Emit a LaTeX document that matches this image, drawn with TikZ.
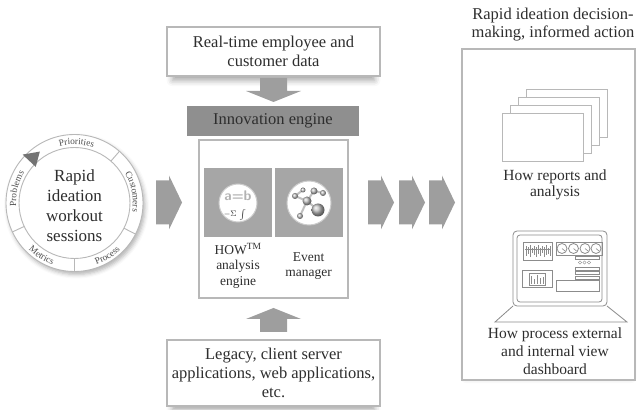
\documentclass[tikz,border=0pt]{standalone}
\usepackage{fontspec}
\setmainfont{Liberation Serif}
\usetikzlibrary{decorations.text,shadows.blur}

\definecolor{inkgray}{HTML}{2E2E2E}
\definecolor{linegray}{HTML}{B8B8B8}
\definecolor{arrowgray}{HTML}{9E9E9E}
\definecolor{bargray}{HTML}{8F8F8F}
\definecolor{tilegray}{HTML}{A6A6A6}
\newcommand{\ringfont}{\fontsize{9.3}{10}\selectfont}

\begin{document}
\begin{tikzpicture}[x=1pt, y=1pt,
  every node/.style={text=inkgray},
  txt/.style={font=\fontsize{16.5}{19}\selectfont, align=center},
  infobox/.style={txt, draw=linegray, line width=1.1pt, fill=white, inner sep=0pt},
  softshadow/.style={blur shadow={shadow xshift=0pt, shadow yshift=-6pt, shadow scale=0.95, shadow blur radius=6pt, shadow opacity=35}},
  tile/.style={fill=tilegray, inner sep=0pt, minimum width=68pt, minimum height=69pt},
  lens/.style={circle, fill=white, draw=white!80!black, line width=1pt, inner sep=0pt},
  page/.style={draw=linegray, line width=1pt, fill=white},
  screen/.style={draw=black!45, line width=0.8pt},
  ringlabel/.style={decorate, decoration={text along path, text align=center, text color=inkgray!85}},
  fatarrow/.pic={\fill[arrowgray] (-12,-13.5) -- (1,-13.5) -- (1,-27.5) -- (12,0) -- (1,27.5) -- (1,13.5) -- (-12,13.5) -- cycle;},
  chevron/.pic={\fill[arrowgray] (-13,-22) -- (0,-22) -- (0,-27) -- (13,0) -- (0,27) -- (0,22) -- (-13,22) -- cycle;}
]
\useasboundingbox (0,0) rectangle (638,410);

% workout ring
\coordinate (hub) at (74.5,207);
\fill[white, blur shadow={shadow xshift=2pt, shadow yshift=-3pt, shadow blur radius=4pt, shadow opacity=30}] (hub) circle (68.5);
\draw[linegray, line width=0.9pt] (hub) circle (68.5) (hub) circle (55.5);
\foreach \a in {49,-27,-90,-155}
  \draw[linegray, line width=0.9pt] ([shift={(\a:55.5)}]hub) -- ([shift={(\a:68.5)}]hub);
\fill[black!55] ([shift={(137:53)}]hub) -- ([shift={(137:71)}]hub) -- ([shift={(124:62)}]hub) -- cycle;
\path[ringlabel, decoration={text={|\ringfont|Priorities}}] ([shift={(123:58.5)}]hub) arc (123:53:58.5);
\path[ringlabel, decoration={text={|\ringfont|Customers}}] ([shift={(46:58.5)}]hub) arc (46:-24:58.5);
\path[ringlabel, decoration={text={|\ringfont|Problems}}] ([shift={(201:58.5)}]hub) arc (201:131:58.5);
\path[ringlabel, decoration={text={|\ringfont|Process}}] ([shift={(-93:65.5)}]hub) arc (-93:-23:65.5);
\path[ringlabel, decoration={text={|\ringfont|Metrics}}] ([shift={(-157:65.5)}]hub) arc (-157:-87:65.5);
\node[font=\fontsize{17}{20}\selectfont, align=center] (workout) at (74.5,204) {Rapid\\ideation\\workout\\sessions};

\pic (inarrow) at (169,207.5) {chevron};

% innovation engine column
\node[infobox, softshadow, minimum width=213pt, minimum height=49pt] (realtime) at (273.5,358.5) {Real-time employee and\\customer data};
\pic[rotate=-90] (downarrow) at (273.5,320) {fatarrow};
\node[txt, fill=bargray, inner sep=0pt, minimum width=172pt, minimum height=30pt] (innovation) at (273,289) {Innovation engine};
\node[draw=linegray, line width=1.1pt, fill=white, inner sep=0pt, minimum width=149pt, minimum height=158pt] (engine) at (273.5,191) {};
\node[tile] (howtile) at (238,207.5) {};
\node[tile] (eventtile) at (308.5,207.5) {};
\node[lens, minimum size=38pt] (howlens) at (238,207) {};
\node[lens, minimum size=44pt] (eventlens) at (309,207) {};
\node[text=black!30, font=\sffamily\bfseries\fontsize{14}{14}\selectfont, inner sep=0pt] (formula) at ([yshift=7]howlens.center) {a=b};
\node[font=\fontsize{8}{8}\selectfont, inner sep=0pt] (symbols) at ([shift={(-3,-12)}]howlens.center) {$-\Sigma\,\int$};
\foreach \ax/\ay/\bx/\by in {-14/7/-2/2, -2/2/5/12, 5/12/14/10, -2/2/9/-7, -2/2/-9/-13, -14/7/-6/13}
  \draw[black!25, line width=2pt] ([shift={(\ax,\ay)}]eventlens.center) -- ([shift={(\bx,\by)}]eventlens.center);
\foreach \bx/\by/\r in {-2/2/4.5, 9/-7/6.5, 5/12/3.5, 14/10/3, -14/7/3, -6/13/2.5, -9/-13/3}
  \shade[ball color=black!25] ([shift={(\bx,\by)}]eventlens.center) circle (\r);
\node[txt, font=\fontsize{13.5}{15.5}\selectfont] (howlabel) at (238,144.5) {HOW\textsuperscript{TM}\\analysis\\engine};
\node[txt, font=\fontsize{13.5}{15.5}\selectfont] (eventlabel) at (308.5,144) {Event\\manager};
\pic[rotate=90] (uparrow) at (273.5,90) {fatarrow};
\node[infobox, softshadow, minimum width=213pt, minimum height=66pt] (legacy) at (273.5,37) {Legacy, client server\\applications, web applications,\\etc.};

\foreach \x in {381,412,442}
  \pic at (\x,207.5) {chevron};

% decision panel
\node[txt, font=\fontsize{16.5}{18}\selectfont] (paneltitle) at (553,385.5) {Rapid ideation decision-\\making, informed action};
\node[draw=linegray, line width=1.1pt, fill=white, inner sep=0pt, minimum width=173pt, minimum height=331pt, softshadow] (panel) at (548.5,195.5) {};
\foreach \i in {3,2,1,0}
  \draw[page] ({502+8.3*\i},{248+8.3*\i}) rectangle ++(81,48);
\node[txt, font=\fontsize{15.5}{16}\selectfont] (reports) at (555,225) {How reports and\\analysis};

% laptop
\draw[screen, rounded corners=4pt] (513,104) rectangle (607,179);
\draw[screen, rounded corners=3pt] (517,108) rectangle (602,175);
\draw[screen] (513,104) -- (495,88) -- (627,88) -- (607,104);
\draw[screen] (523,150) rectangle (552,168);
\draw[screen, line width=0.5pt] (525,161) -- (550,161);
\foreach \x/\a/\b in {526/154/164,528/156/163,530/153/165,532/157/162,534/155/164,536/153/163,538/156/165,540/154/162,542/157/164,544/153/163,546/155/165,548/156/162,550/154/164}
  \draw[screen, line width=0.5pt] (\x,\a) -- (\x,\b);
\draw[screen] (556,155) rectangle (602,168);
\foreach \x in {562,573.5,585,596} {
  \draw[screen] (\x,161.5) circle (5);
  \draw[screen, line width=0.6pt] (\x,161.5) -- ++(-40:4);
}
\draw[screen] (575,151) rectangle (599,154);
\foreach \x in {580,584.5,589}
  \draw[screen, line width=0.4pt] (\x,147.5) circle (1.6);
\draw[screen] (522,123) rectangle (552,140);
\draw[screen] (529,125) rectangle (545,137);
\foreach \x/\h in {531/8,534/5,537/9,540/6,543/7}
  \draw[screen, line width=1pt] (\x,126) -- ++(0,\h);
\foreach \y in {140,135.5,131}
  \draw[screen] (575,\y) rectangle (599,{\y+3});
\draw[screen] (556,119) rectangle (599,130);
\node[txt, font=\fontsize{15.5}{18}\selectfont] (dashboard) at (555,59) {How process external\\and internal view\\dashboard};
\end{tikzpicture}
\end{document}
